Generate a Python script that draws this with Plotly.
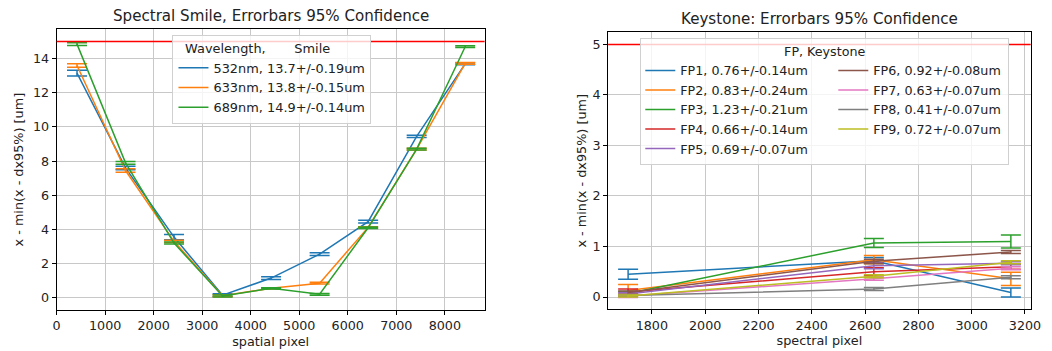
import plotly.graph_objects as go

# ---------------- data ----------------
smile_x = [420, 1420, 2420, 3420, 4420, 5420, 6420, 7420, 8420]
smile_names = ["532nm, 13.7+/-0.19um", "633nm, 13.8+/-0.15um", "689nm, 14.9+/-0.14um"]
smile_532 = [13.15, 7.6, 3.55, 0.15, 1.15, 2.55, 4.45, 9.45, 13.7]
smile_633 = [13.6, 7.45, 3.3, 0.12, 0.55, 0.85, 4.12, 8.7, 13.72]
smile_689 = [14.85, 7.9, 3.2, 0.1, 0.55, 0.2, 4.1, 8.7, 14.7]
smile_532_err = [0.17, 0.1, 0.15, 0.08, 0.08, 0.08, 0.08, 0.06, 0.05]
smile_633_err = [0.1, 0.1, 0.06, 0.06, 0.04, 0.05, 0.04, 0.05, 0.05]
smile_689_err = [0.08, 0.08, 0.06, 0.06, 0.04, 0.05, 0.04, 0.05, 0.05]
smile_limit = 15

key_x = [1711, 2633, 3147]
key_names = ["FP1, 0.76+/-0.14um", "FP2, 0.83+/-0.24um", "FP3, 1.23+/-0.21um",
             "FP4, 0.66+/-0.14um", "FP5, 0.69+/-0.07um", "FP6, 0.92+/-0.08um",
             "FP7, 0.63+/-0.07um", "FP8, 0.41+/-0.07um", "FP9, 0.72+/-0.07um"]
key_vals = [
    [0.45, 0.72, 0.09],
    [0.13, 0.74, 0.36],
    [0.07, 1.07, 1.10],
    [0.10, 0.50, 0.60],
    [0.06, 0.62, 0.67],
    [0.09, 0.71, 0.89],
    [0.02, 0.36, 0.57],
    [0.03, 0.16, 0.39],
    [0.02, 0.41, 0.69],
]
key_errs = [
    [0.10, 0.06, 0.09],
    [0.12, 0.08, 0.13],
    [0.04, 0.09, 0.13],
    [0.06, 0.08, 0.05],
    [0.03, 0.06, 0.03],
    [0.03, 0.04, 0.03],
    [0.03, 0.03, 0.03],
    [0.02, 0.03, 0.03],
    [0.02, 0.03, 0.03],
]
key_limit = 5

tab10 = ["#1f77b4", "#ff7f0e", "#2ca02c", "#d62728", "#9467bd",
         "#8c564b", "#e377c2", "#7f7f7f", "#bcbd22"]

FONT = "DejaVu Sans"
fig = go.Figure()

for name, vals, errs, col in zip(smile_names, [smile_532, smile_633, smile_689],
                                 [smile_532_err, smile_633_err, smile_689_err], tab10[:3]):
    fig.add_trace(go.Scatter(
        x=smile_x, y=vals, name=name, mode="lines",
        line=dict(color=col, width=1.5),
        error_y=dict(type="data", array=errs, color=col, thickness=1.5, width=10),
        xaxis="x", yaxis="y", legend="legend"))

for i, (name, vals, errs) in enumerate(zip(key_names, key_vals, key_errs)):
    fig.add_trace(go.Scatter(
        x=key_x, y=vals, name=name, mode="lines",
        line=dict(color=tab10[i], width=1.5),
        error_y=dict(type="data", array=errs, color=tab10[i], thickness=1.5, width=10),
        xaxis="x2", yaxis="y2", legend="legend2",
        legendgroup="c1" if i < 5 else "c2",
        legendwidth=148 if i < 5 else 130))

axis_common = dict(showline=True, linecolor="black", linewidth=1, mirror=True,
                   ticks="outside", ticklen=4, tickcolor="black",
                   showgrid=True, gridcolor="#c8c8c8", gridwidth=1, zeroline=False,
                   tickfont=dict(family=FONT, size=12.7, color="#222"))

NB = "\u00a0"
fig.update_layout(
    width=1052, height=351,
    margin=dict(l=0, r=0, t=0, b=0),
    paper_bgcolor="white", plot_bgcolor="white",
    font=dict(family=FONT, size=12.8, color="#222"),
    xaxis=dict(domain=[0.0507, 0.463], range=[0, 8820], dtick=1000, anchor="y",
               title=dict(text="spatial pixel", font=dict(size=12.8), standoff=4), **axis_common),
    yaxis=dict(domain=[0.1168, 0.9165], range=[-0.72, 15.72], dtick=2, anchor="x",
               title=dict(text="x - min(x - dx95%) [um]", font=dict(size=12.8), standoff=6), **axis_common),
    xaxis2=dict(domain=[0.582, 0.989], range=[1636, 3221], dtick=200, anchor="y2",
                title=dict(text="spectral pixel", font=dict(size=12.8), standoff=4), **axis_common),
    yaxis2=dict(domain=[0.1188, 0.908], range=[-0.243, 5.24], dtick=1, anchor="x2",
                title=dict(text="x - min(x - dx95%) [um]", font=dict(size=12.8), standoff=3), **axis_common),
    legend=dict(x=0.1623, y=0.9003, xanchor="left", yanchor="top",
                bgcolor="rgba(255,255,255,0.8)", bordercolor="#d0d0d0", borderwidth=1,
                font=dict(family=FONT, size=12.9, color="#222"),
                title=dict(text="Wavelength," + NB * 7 + "Smile" + NB * 7,
                           side="top center", font=dict(size=12.9)),
                itemwidth=30),
    legend2=dict(x=0.613, y=0.891, xanchor="left", yanchor="top",
                 orientation="h", traceorder="grouped", tracegroupgap=0,
                 entrywidthmode="pixels",
                 bgcolor="rgba(255,255,255,0.8)", bordercolor="#d0d0d0", borderwidth=1,
                 font=dict(family=FONT, size=12.7, color="#222"),
                 title=dict(text="FP, Keystone", side="top center", font=dict(size=12.7)),
                 itemwidth=30),
    shapes=[
        dict(type="line", xref="x domain", yref="y", x0=0, x1=1, y0=smile_limit, y1=smile_limit,
             line=dict(color="red", width=1.5), layer="above"),
        dict(type="line", xref="x2 domain", yref="y2", x0=0, x1=1, y0=key_limit, y1=key_limit,
             line=dict(color="red", width=1.5), layer="above"),
    ],
    annotations=[
        dict(text="Spectral Smile, Errorbars 95% Confidence", xref="paper", yref="paper",
             x=(0.0507 + 0.463) / 2, y=1 - 16 / 351, xanchor="center", yanchor="middle",
             showarrow=False, font=dict(family=FONT, size=15.1, color="#222")),
        dict(text="Keystone: Errorbars 95% Confidence", xref="paper", yref="paper",
             x=(0.582 + 0.989) / 2, y=1 - 19 / 351, xanchor="center", yanchor="middle",
             showarrow=False, font=dict(family=FONT, size=15.1, color="#222")),
    ],
)

fig.write_html("out.html")
